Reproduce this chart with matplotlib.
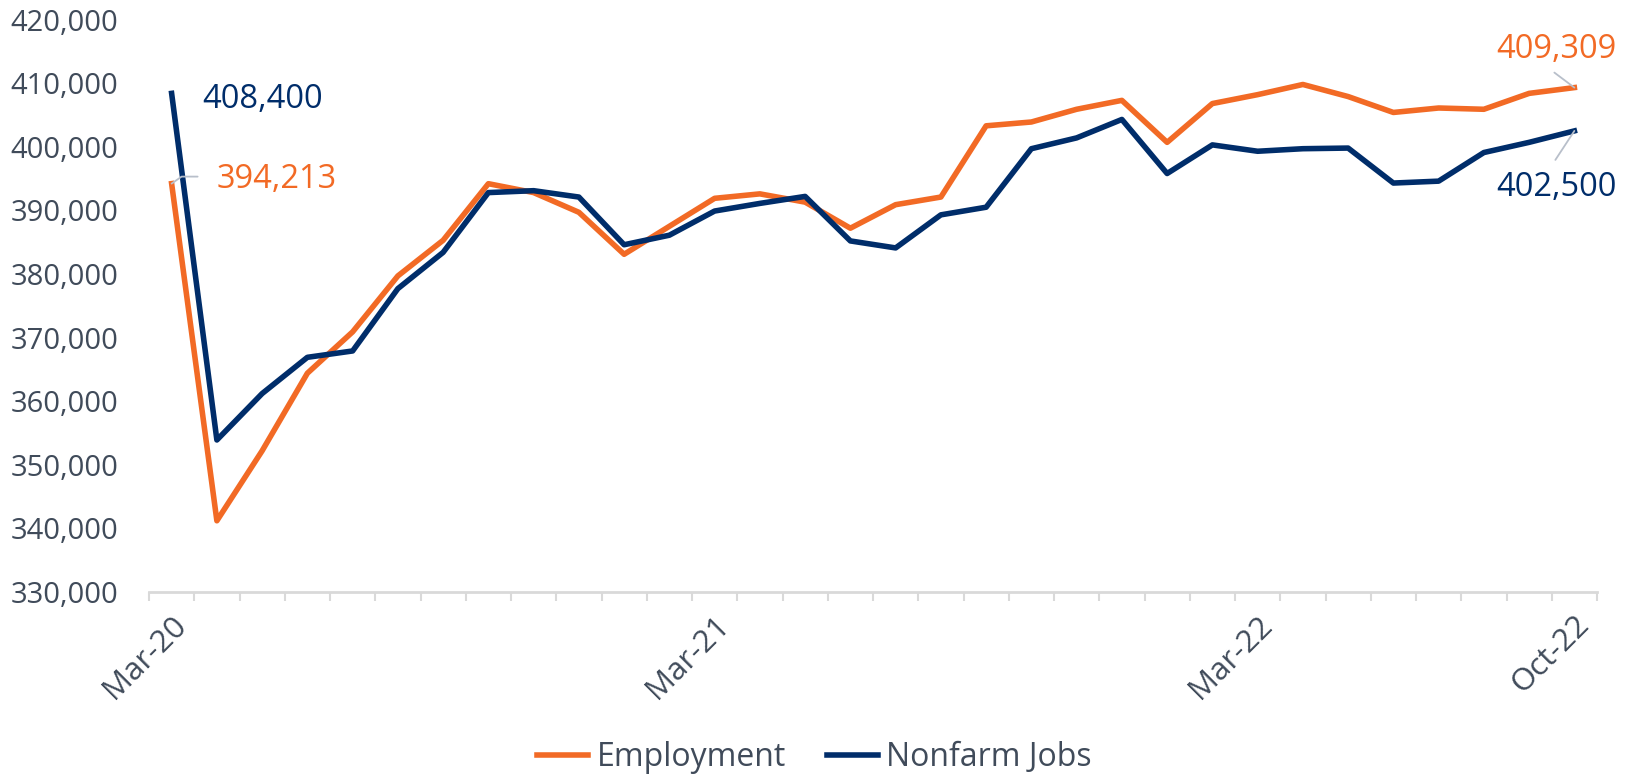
import numpy as np
import pandas as pd
import matplotlib.pyplot as plt
from matplotlib.ticker import FuncFormatter, MultipleLocator

plt.rcParams['font.family'] = ['Open Sans', 'DejaVu Sans']

# Monthly data, Mar-20 .. Oct-22
months = pd.date_range('2020-03-01', periods=32, freq='MS').strftime('%b-%y').tolist()
shown_labels = ['Mar-20', 'Mar-21', 'Mar-22', 'Oct-22']

employment = [394213, 341200, 352200, 364400, 370900, 379700, 385300, 394200,
              392800, 389700, 383100, 387500, 391900, 392600, 391300, 387200,
              390900, 392100, 403300, 403900, 405900, 407300, 400700, 406800,
              408200, 409800, 407900, 405400, 406100, 405900, 408400, 409309]
nonfarm = [408400, 353900, 361200, 366900, 367900, 377700, 383400, 392800,
           393100, 392100, 384600, 386100, 389900, 391100, 392200, 385200,
           384100, 389300, 390500, 399700, 401400, 404300, 395800, 400300,
           399300, 399700, 399800, 394300, 394600, 399100, 400700, 402500]

orange = '#F26A25'
navy = '#002D6A'
txt = '#404B5A'
axis_grey = '#D9D9D9'
leader = '#B8BFCA'

fig = plt.figure(figsize=(16.26, 7.74), dpi=100)
ax = fig.add_axes([149/1626, 1 - 592/774, (1597 - 149)/1626, (592 - 19.6)/774])

x = np.arange(len(months))
ax.plot(x, employment, color=orange, lw=4, label='Employment')
ax.plot(x, nonfarm, color=navy, lw=4, label='Nonfarm Jobs')

ax.set_xlim(-0.5, len(months) - 0.5)
ax.set_ylim(330000, 420000)
ax.yaxis.set_major_locator(MultipleLocator(10000))
ax.yaxis.set_major_formatter(FuncFormatter(lambda v, p: f'{v:,.0f}'))

# category ticks at the boundaries, labels at a few centres
ax.set_xticks(np.arange(-0.5, len(months)), minor=True)
idx = [months.index(m) for m in shown_labels]
ax.set_xticks(idx)
ax.set_xticklabels(shown_labels, rotation=45, ha='right', va='top', rotation_mode='anchor')
ax.tick_params(axis='x', which='major', length=0, pad=13, labelsize=22.5, labelcolor=txt)
ax.tick_params(axis='x', which='minor', length=6.5, width=1.5, color=axis_grey)
ax.tick_params(axis='y', length=0, pad=22, labelsize=21, labelcolor=txt)

for s in ['top', 'right', 'left']:
    ax.spines[s].set_visible(False)
ax.spines['bottom'].set_color(axis_grey)
ax.spines['bottom'].set_linewidth(2)

# data labels with leader lines
lp = dict(arrowstyle='-', color=leader, lw=1.3, shrinkA=0, shrinkB=0)
ax.annotate(f'{nonfarm[0]:,}', xy=(0, nonfarm[0]), xytext=(31, -6), textcoords='offset pixels',
            ha='left', va='center', fontsize=23.5, color=navy)
ax.annotate('', xy=(0, employment[0]), xytext=(26, 7), textcoords='offset pixels',
            arrowprops=dict(lp, connectionstyle='angle,angleA=0,angleB=35,rad=0'))
ax.annotate(f'{employment[0]:,}', xy=(0, employment[0]), xytext=(45, 4), textcoords='offset pixels',
            ha='left', va='center', fontsize=23.5, color=orange)

last = len(months) - 1
ax.annotate('', xy=(last, employment[-1]), xytext=(-20, 15), textcoords='offset pixels', arrowprops=lp)
ax.annotate(f'{employment[-1]:,}', xy=(last, employment[-1]), xytext=(42, 38), textcoords='offset pixels',
            ha='right', va='center', fontsize=23.5, color=orange)
ax.annotate('', xy=(last, nonfarm[-1]), xytext=(-19, -29), textcoords='offset pixels', arrowprops=lp)
ax.annotate(f'{nonfarm[-1]:,}', xy=(last, nonfarm[-1]), xytext=(42, -57), textcoords='offset pixels',
            ha='right', va='center', fontsize=23.5, color=navy)

leg = fig.legend(loc='center', bbox_to_anchor=(0.501, 1 - 758/774), ncol=2, frameon=False,
                 fontsize=23, handlelength=1.6, handletextpad=0.25, columnspacing=1.3)
for t in leg.get_texts():
    t.set_color(txt)

fig.savefig('out.png', dpi=100)
